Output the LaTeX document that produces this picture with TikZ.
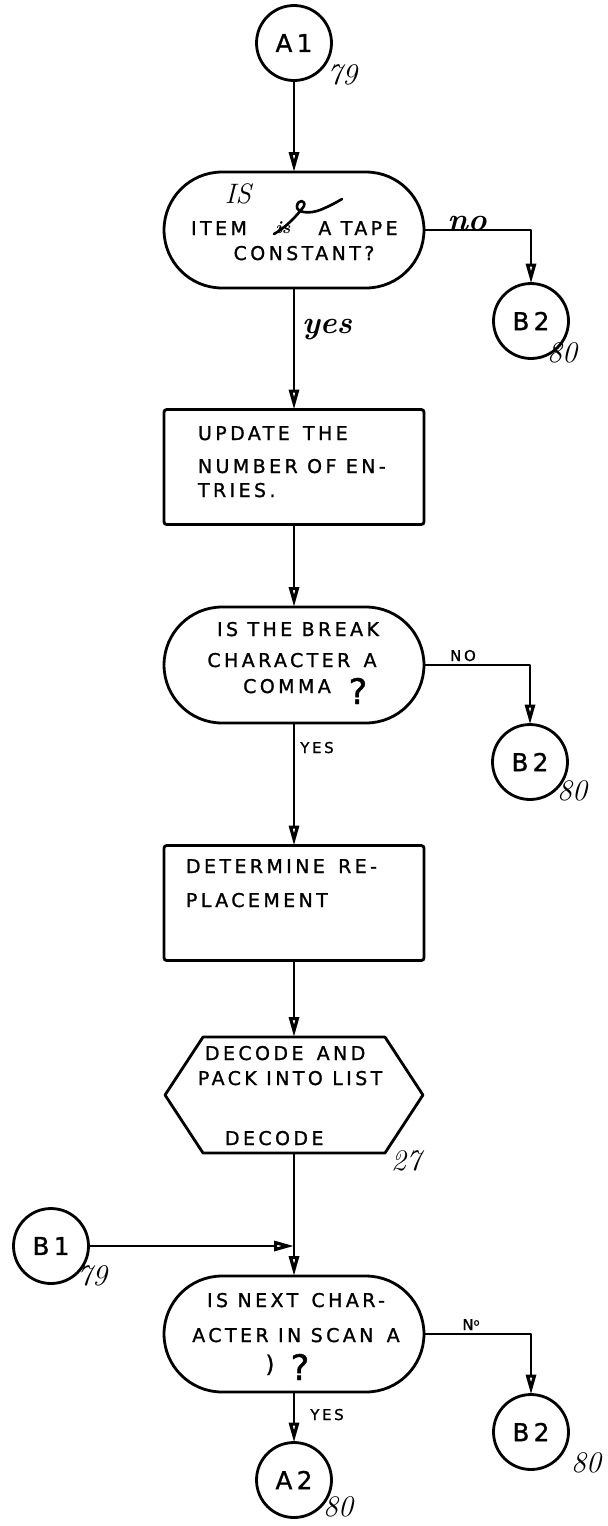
\documentclass[tikz,border=0pt]{standalone}
\usepackage{fontspec}
\newfontfamily\hw[LetterSpace=18, FakeBold=1.2]{DejaVu Sans}
\usetikzlibrary{arrows.meta,shapes.misc,calc}
\newcommand{\gap}{\hspace{0.7em}}
\begin{document}
\begin{tikzpicture}[
  x=0.02cm, y=-0.02cm,
  every node/.style={inner sep=0pt, outer sep=0pt},
  ink/.style={line width=1.2pt, line join=round, line cap=round},
  outline/.style={draw, line width=1.6pt},
  arr/.style={ink, -{Triangle[open, length=0.4cm, width=0.2cm, line width=1.8pt]}},
  term/.style={circle, outline, minimum size=1.5cm, font=\hw\fontsize{14}{14}\selectfont},
  decision/.style={rounded rectangle, outline, minimum width=5.2cm, minimum height=2.32cm},
  process/.style={rectangle, outline, rounded corners=1.5pt, minimum width=5.2cm, minimum height=2.3cm},
  hexbox/.style={rectangle, minimum width=5.16cm, minimum height=2.32cm},
  txt/.style={anchor=base, font=\hw\fontsize{10.8}{12}\selectfont},
  txtl/.style={txt, anchor=base west},
  tag/.style={anchor=base, font=\hw\fontsize{8.5}{8.5}\selectfont},
  note/.style={anchor=base, font=\itshape\fontsize{17}{17}\selectfont},
]
\useasboundingbox (0,0) rectangle (608,1526);

% ---- entry and first test
\node[term] (A1) at (294,43) {A1};
\node[note] (A1n) at (342,84) {79};

\node[decision] (d1) at (294,230) {};
\node[note, font=\itshape\fontsize{16}{16}\selectfont] (d1is) at (238,203) {IS};
\node[txt] (d1a) at (219,235) {ITEM};
\node[anchor=base, font=\itshape\bfseries\fontsize{10}{10}\selectfont] (d1x) at (283,233) {is};
\draw[ink, line width=1.5pt] (274,234) .. controls (288,226) and (300,212) .. (304,206)
  .. controls (306,200) and (298,199) .. (297,206)
  .. controls (296,213) and (310,214) .. (320,210)
  .. controls (330,206) and (337,202) .. (342,199);
\node[txt] (d1b) at (358,235) {A TAPE};
\node[txt] (d1c) at (304,260) {CONSTANT?};

\node[term] (B2a) at (531,321) {B2};
\node[note] (B2an) at (562,362) {80};
\node[note, font=\itshape\bfseries\fontsize{18}{18}\selectfont] (d1no) at (467,230) {no};
\node[note, font=\itshape\bfseries\fontsize{18}{18}\selectfont] (d1yes) at (327,333) {yes};

% ---- update count
\node[process] (b1) at (294,467) {};
\node[txtl] (b1a) at (198,440) {UPDATE\gap THE};
\node[txtl] (b1b) at (198,473) {NUMBER OF EN-};
\node[txtl] (b1c) at (198,497) {TRIES.};

% ---- break character test
\node[decision] (d2) at (294,665) {};
\node[txt] (d2a) at (298,636) {IS THE BREAK};
\node[txt] (d2b) at (292,667) {CHARACTER\gap A};
\node[txt] (d2c) at (287,693) {COMMA};
\node[anchor=base, font=\hw\fontsize{20}{20}\selectfont] (d2q) at (358,704) {?};

\node[term] (B2b) at (530,762) {B2};
\node[note] (B2bn) at (572,800) {80};
\node[tag] (d2no) at (463,661) {NO};
\node[tag] (d2yes) at (317,753) {YES};

% ---- replacement
\node[process] (b2) at (294,903) {};
\node[txtl] (b2a) at (186,873) {DETERMINE\gap RE-};
\node[txtl] (b2b) at (186,907) {PLACEMENT};

% ---- decode subroutine
\node[hexbox] (hx) at (294,1095) {};
\draw[line width=1.6pt, line join=round] (hx.west) -- ($(hx.north west)+(38,0)$) -- ($(hx.north east)+(-38,0)$)
  -- (hx.east) -- ($(hx.south east)+(-38,0)$) -- ($(hx.south west)+(38,0)$) -- cycle;
\node[txtl] (hxa) at (205,1060) {DECODE\gap AND};
\node[txtl] (hxb) at (198,1085) {PACK INTO LIST};
\node[txtl] (hxc) at (225,1145) {DECODE};
\node[note] (hxn) at (406,1170) {27};

% ---- second entry and closing-paren test
\node[term] (B1) at (51,1246) {B1};
\node[note] (B1n) at (92,1285) {79};
\coordinate (j) at (294,1246);

\node[decision] (d3) at (294,1334) {};
\node[txt] (d3a) at (296,1307) {IS NEXT\gap CHAR-};
\node[txt] (d3b) at (296,1342) {ACTER IN SCAN\gap A};
\node[anchor=base, font=\hw\fontsize{13}{13}\selectfont] (d3p) at (270,1372) {)};
\node[anchor=base, font=\hw\fontsize{20}{20}\selectfont] (d3q) at (300,1380) {?};

\node[term] (B2c) at (531,1432) {B2};
\node[note] (B2cn) at (586,1472) {80};
\node[tag] (d3no) at (471,1330) {N\raisebox{2.5pt}{\fontsize{5.5}{5.5}\selectfont o}};
\node[tag] (d3yes) at (327,1420) {YES};

\node[term] (A2) at (294,1480) {A2};
\node[note] (A2n) at (338,1516) {80};

% ---- connectors
\draw[arr] (A1) -- (d1);
\draw[arr] (d1) -| (B2a);
\draw[arr] (d1) -- (b1);
\draw[arr] (b1) -- (d2);
\draw[arr] (d2) -| (B2b);
\draw[arr] (d2) -- (b2);
\draw[arr] (b2) -- (hx);
\draw[arr] (hx) -- (d3);
\draw[arr] (B1) -- (j);
\draw[arr] (d3) -| (B2c);
\draw[arr] (d3) -- (A2);
\end{tikzpicture}
\end{document}
